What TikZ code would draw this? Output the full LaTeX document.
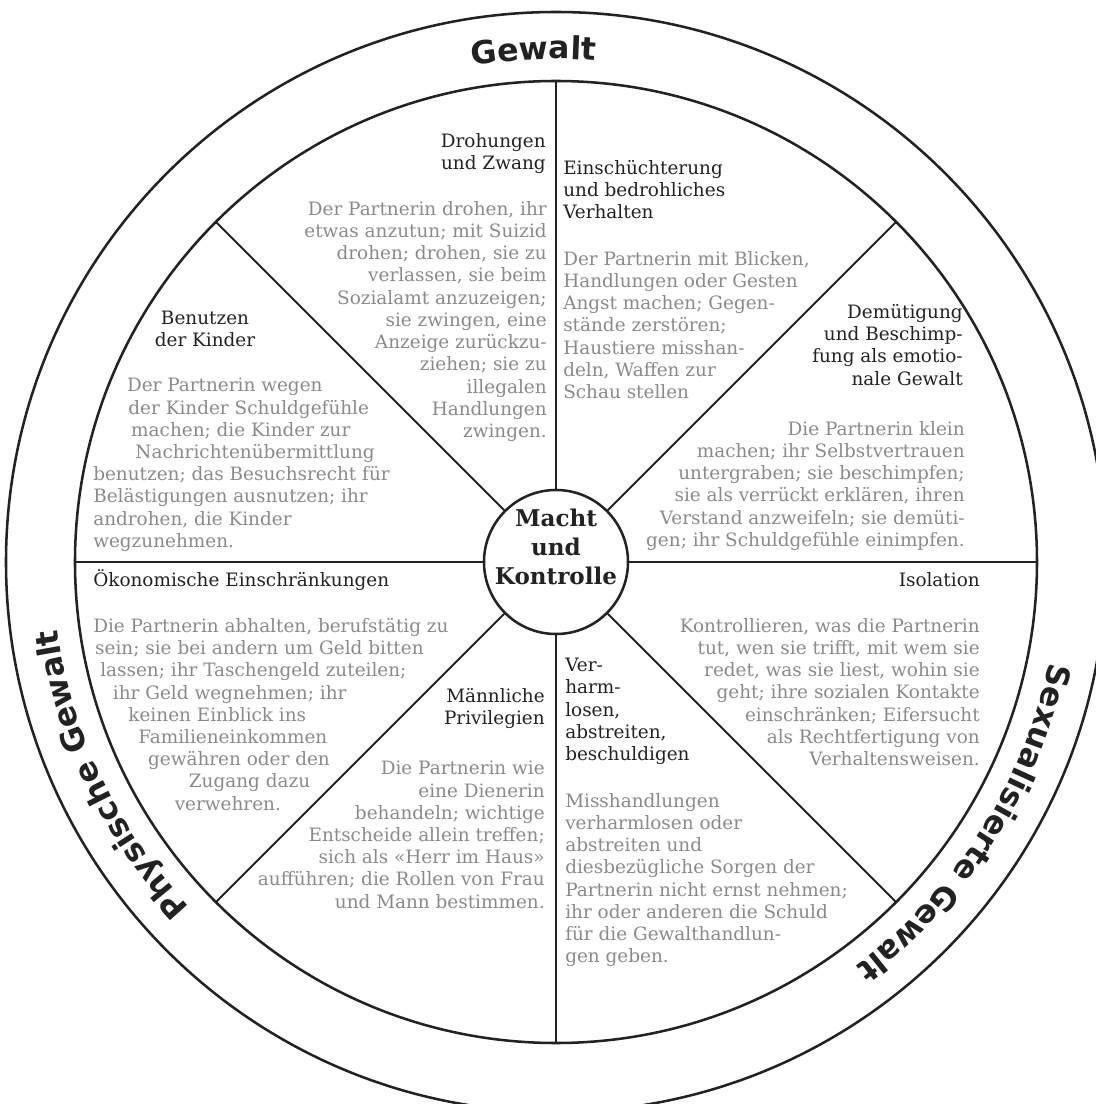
\documentclass[tikz,border=0pt]{standalone}
\usepackage{fontspec}
\setmainfont{DejaVu Serif}
\newfontfamily\ringfont{DejaVu Sans}
\usepackage{tikz}
\usetikzlibrary{decorations.text}
\definecolor{linecol}{HTML}{222222}
\definecolor{textgray}{HTML}{8A8A8A}
\newcommand{\bodysize}{\fontsize{13.1pt}{15.8pt}\selectfont}
\newcommand{\hubsize}{\fontsize{16.4pt}{20.6pt}\selectfont}
\newcommand{\ringstyle}{\ringfont\bfseries\fontsize{22.5pt}{24pt}\selectfont}

\tikzset{
  wheel/.style={draw=linecol,line width=1.8pt},
  spoke/.style={draw=linecol,line width=1.5pt},
  head/.style={inner sep=0pt,text=linecol,font=\bodysize},
  body/.style={inner sep=0pt,text=textgray,font=\bodysize},
  ringtext/.style={decorate,decoration={text along path,text align=center,
    text color=linecol,text={|\ringstyle|#1}}}
}

\begin{document}
\begin{tikzpicture}[x=0.025cm,y=0.025cm]
\useasboundingbox (-556,-542) rectangle (540,562);

% Rad
\draw[wheel] (0,0) circle (550);
\draw[wheel] (0,0) circle (481);
\node[circle,wheel,minimum size=3.6cm,inner sep=0pt] (hub) at (0,0) {};
\node[align=center,text=linecol,font=\hubsize\bfseries] (hubtext) at (0,15)
  {Macht\\und\\Kontrolle};
\foreach \a in {0,45,...,315}
  \draw[spoke] (hub.\a) -- (\a:481);

% Ring
\path[ringtext=Gewalt] (120:503) arc[start angle=120,end angle=65,radius=503];
\path[ringtext=Physische Gewalt] (241:503) arc[start angle=241,end angle=170,radius=503];
\path[ringtext=Sexualisierte Gewalt] (10:503) arc[start angle=10,end angle=-75,radius=503];

% Drohungen
\node[head,align=right,anchor=north east] (drohT) at (-10,429)
  {Drohungen\\und Zwang};
\node[body,align=right,anchor=north east] (drohB) at (-9,361)
  {Der Partnerin drohen, ihr\\etwas anzutun; mit Suizid\\drohen; drohen, sie zu\\
   verlassen, sie beim\\Sozialamt anzuzeigen;\\sie zwingen, eine\\
   Anzeige zurückzu-\\ziehen; sie zu\\illegalen\\Handlungen\\zwingen.};

% Einschuechterung
\node[head,align=left,anchor=north west] (einT) at (7,402)
  {Einschüchterung\\und bedrohliches\\Verhalten};
\node[body,align=left,anchor=north west] (einB) at (7,311)
  {Der Partnerin mit Blicken,\\Handlungen oder Gesten\\Angst machen; Gegen-\\
   stände zerstören;\\Haustiere misshan-\\deln, Waffen zur\\Schau stellen};

% Demuetigung
\node[head,align=right,anchor=north east] (demT) at (407,258)
  {Demütigung\\und Beschimp-\\fung als emotio-\\nale Gewalt};
\node[body,align=right,anchor=north east] (demB) at (409,141)
  {Die Partnerin klein\\machen; ihr Selbstvertrauen\\untergraben; sie beschimpfen;\\
   sie als verrückt erklären, ihren\\Verstand anzweifeln; sie demüti-\\
   gen; ihr Schuldgefühle einimpfen.};

% Isolation
\node[head,align=right,anchor=north east] (isoT) at (424,-10) {Isolation};
\node[body,align=right,anchor=north east] (isoB) at (424,-56)
  {Kontrollieren, was die Partnerin\\tut, wen sie trifft, mit wem sie\\
   redet, was sie liest, wohin sie\\geht; ihre sozialen Kontakte\\
   einschränken; Eifersucht\\als Rechtfertigung von\\Verhaltensweisen.};

% Verharmlosen
\node[head,align=left,anchor=north west] (verT) at (9,-96)
  {Ver-\\harm-\\losen,\\abstreiten,\\beschuldigen};
\node[body,align=left,anchor=north west] (verB) at (9,-231)
  {Misshandlungen\\verharmlosen oder\\abstreiten und\\diesbezügliche Sorgen der\\
   Partnerin nicht ernst nehmen;\\ihr oder anderen die Schuld\\
   für die Gewalthandlun-\\gen geben.};

% Privilegien
\node[head,align=right,anchor=north east] (privT) at (-11,-126)
  {Männliche\\Privilegien};
\node[body,align=right,anchor=north east] (privB) at (-11,-199)
  {Die Partnerin wie\\eine Dienerin\\behandeln; wichtige\\Entscheide allein treffen;\\
   sich als «Herr im Haus»\\aufführen; die Rollen von Frau\\und Mann bestimmen.};

% Oekonomisch
\node[head,align=left,anchor=north west] (oekT) at (-463,-7)
  {Ökonomische Einschränkungen};
\node[body,align=left,anchor=north west] (oekB) at (-463,-56)
  {Die Partnerin abhalten, berufstätig zu\\
   \hspace*{1.4pt}sein; sie bei andern um Geld bitten\\
   \hspace*{5pt}lassen; ihr Taschengeld zuteilen;\\
   \hspace*{14pt}ihr Geld wegnehmen; ihr\\
   \hspace*{25pt}keinen Einblick ins\\
   \hspace*{32pt}Familieneinkommen\\
   \hspace*{39pt}gewähren oder den\\
   \hspace*{68pt}Zugang dazu\\
   \hspace*{58pt}verwehren.};

% Kinder
\node[head,align=center,anchor=north] (kindT) at (-351,251)
  {Benutzen\\der Kinder};
\node[body,align=left,anchor=north west] (kindB) at (-463,184)
  {\hspace*{24pt}Der Partnerin wegen\\
   \hspace*{25pt}der Kinder Schuldgefühle\\
   \hspace*{27pt}machen; die Kinder zur\\
   \hspace*{30pt}Nachrichtenübermittlung\\
   benutzen; das Besuchsrecht für\\Belästigungen ausnutzen; ihr\\
   androhen, die Kinder\\wegzunehmen.};
\end{tikzpicture}
\end{document}
